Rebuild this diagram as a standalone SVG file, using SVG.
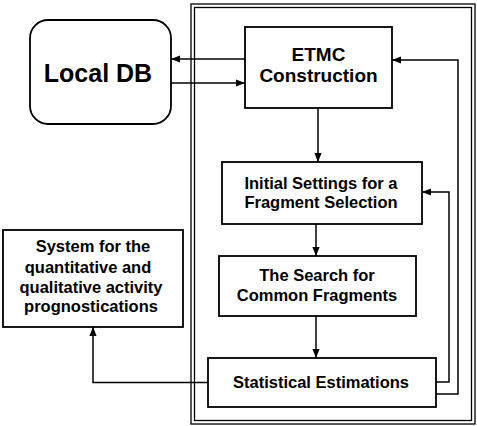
<svg xmlns="http://www.w3.org/2000/svg" width="477" height="426" viewBox="0 0 477 426">
<defs>
<marker id="ah" viewBox="0 0 10 10" refX="10" refY="5" markerWidth="9" markerHeight="9" markerUnits="userSpaceOnUse" orient="auto">
<path d="M0,1 L10,5 L0,9 Z" fill="#000"/>
</marker>
<style>
.box{fill:#fff;stroke:#000;stroke-width:1.8}
.frame{fill:none;stroke:#000;stroke-width:1.3}
.t{font-family:"Liberation Sans",Arial,sans-serif;font-weight:bold;fill:#000;text-anchor:middle}
.c{fill:none;stroke:#000;stroke-width:1.5}
</style>
</defs>
<rect width="477" height="426" fill="#fff"/>
<g id="frame">
<rect class="frame" x="191" y="4" width="284" height="420"/>
<rect class="frame" x="194.5" y="7.5" width="277" height="413"/>
</g>
<g id="localdb">
<rect class="box" x="30" y="20" width="141" height="104" rx="18" ry="18"/>
<text class="t" x="98" y="82" font-size="25">Local DB</text>
</g>
<g id="etmc">
<rect class="box" x="245" y="27" width="147" height="81"/>
<text class="t" x="318.5" y="61" font-size="19">ETMC</text>
<text class="t" x="318.5" y="82" font-size="19">Construction</text>
</g>
<g id="initial">
<rect class="box" x="222" y="162" width="200" height="62"/>
<text class="t" x="321" y="189" font-size="16.5">Initial Settings for a</text>
<text class="t" x="321" y="208" font-size="16.5">Fragment Selection</text>
</g>
<g id="search">
<rect class="box" x="219" y="256" width="197" height="60"/>
<text class="t" x="317" y="281" font-size="16.5">The Search for</text>
<text class="t" x="317" y="301" font-size="16.5">Common Fragments</text>
</g>
<g id="stat">
<rect class="box" x="208" y="358" width="228" height="49"/>
<text class="t" x="321" y="388" font-size="16.5">Statistical Estimations</text>
</g>
<g id="system">
<rect class="box" x="3" y="230" width="180" height="97"/>
<text class="t" x="93" y="252" font-size="16.5">System for the</text>
<text class="t" x="88" y="273" font-size="16.5">quantitative and</text>
<text class="t" x="91" y="293" font-size="16.5">qualitative activity</text>
<text class="t" x="91" y="312" font-size="16.5">prognostications</text>
</g>
<g id="connectors">
<line class="c" x1="245" y1="59" x2="171" y2="59" marker-end="url(#ah)"/>
<line class="c" x1="171" y1="83" x2="245" y2="83" marker-end="url(#ah)"/>
<line class="c" x1="318" y1="108" x2="318" y2="162" marker-end="url(#ah)"/>
<line class="c" x1="316" y1="224" x2="316" y2="256" marker-end="url(#ah)"/>
<line class="c" x1="316" y1="316" x2="316" y2="358" marker-end="url(#ah)"/>
<polyline class="c" points="436,382 449,382 449,192 422,192" marker-end="url(#ah)"/>
<polyline class="c" points="436,394 458,394 458,60 392,60" marker-end="url(#ah)"/>
<polyline class="c" points="208,382.5 93,382.5 93,327" marker-end="url(#ah)"/>
</g>
</svg>
